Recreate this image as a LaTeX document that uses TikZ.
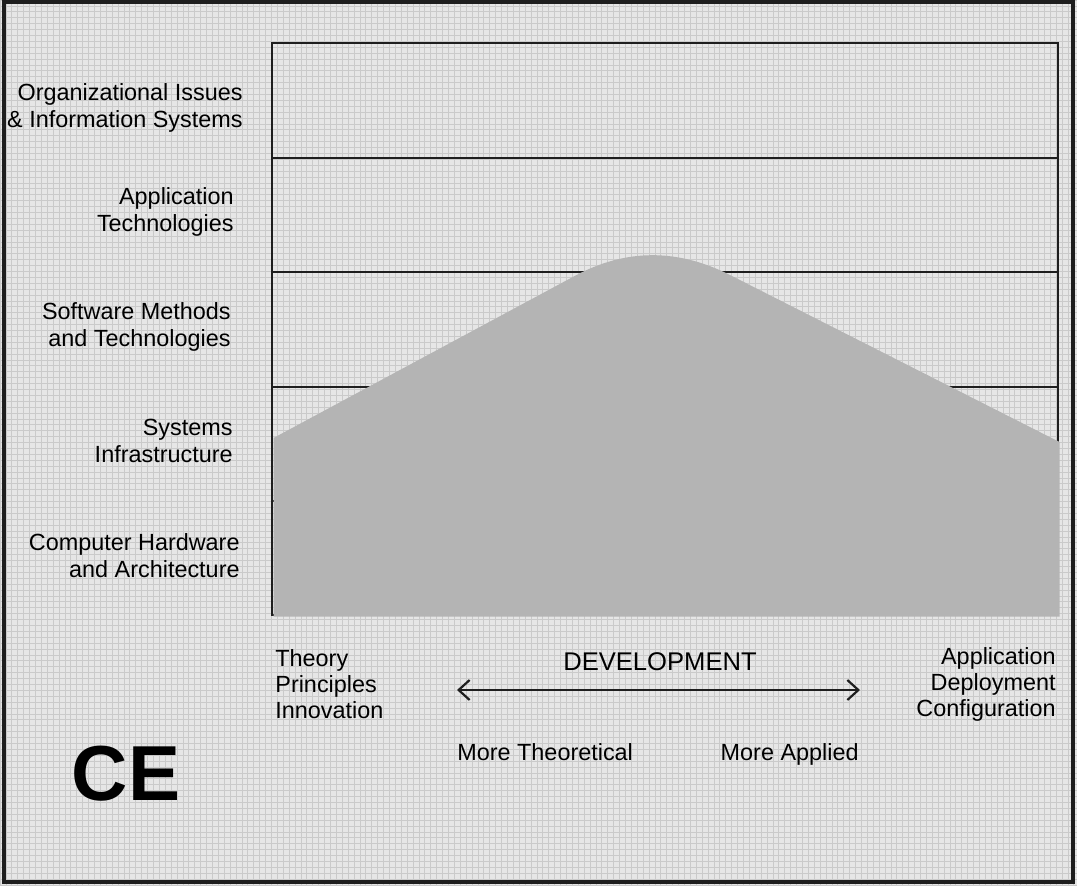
\documentclass[tikz,border=0pt]{standalone}
\usepackage{fontspec}
\setmainfont{Liberation Sans}
\usetikzlibrary{arrows.meta}
\definecolor{paper}{HTML}{E6E6E6}
\definecolor{gridgray}{HTML}{CACACA}
\definecolor{humpgray}{HTML}{B4B4B4}
\definecolor{inkdark}{HTML}{1E1E1E}

\begin{document}
\begin{tikzpicture}[x=0.5pt, y=-0.5pt,
  rowlabel/.style={anchor=east, align=right, inner sep=0pt, font=\fontsize{11.7}{13.5}\selectfont},
  axislabel/.style={inner sep=0pt, font=\fontsize{11.7}{13}\selectfont}]
\useasboundingbox (0,0) rectangle (1077,885);
\fill[paper] (0,0) rectangle (1077,885);
\draw[gridgray, line width=0.35pt, step=2.95pt] (0,885) grid (1077,0);
\draw[inkdark, line width=1.8pt] (4,2) rectangle (1073,882);
% layer box
\coordinate (TL) at (272,43);
\coordinate (BR) at (1058,615);
\draw[inkdark, line width=1pt] (TL) rectangle (BR);
\foreach \y in {158,272,387,501}
  \draw[inkdark, line width=1pt] (272,\y) -- (1058,\y);
% hump
\fill[humpgray] (273.5,438) -- (575,275.8)
  .. controls (625.7,248.6) and (677.3,248.3) .. (730,275)
  -- (1059.5,442) -- (1059.5,616.5) -- (273.5,616.5) -- cycle;
% layer names
\node[rowlabel] (orgis) at (243,108) {Organizational Issues\\\& Information Systems};
\node[rowlabel] (apptech) at (234,212) {Application\\Technologies};
\node[rowlabel] (softmeth) at (231,327) {Software Methods\\and Technologies};
\node[rowlabel] (sysinf) at (233,441) {Systems\\Infrastructure};
\node[rowlabel] (comphw) at (240,556) {Computer Hardware\\and Architecture};
% axis
\node[axislabel, anchor=west, align=left] (theory) at (275,684) {Theory\\Principles\\Innovation};
\node[axislabel, anchor=east, align=right] (applied) at (1056,684) {Application\\Deployment\\Configuration};
\node[inner sep=0pt, font=\fontsize{12.8}{14}\selectfont] (devel) at (660,662) {DEVELOPMENT};
\coordinate (arrL) at (457,690);
\coordinate (arrR) at (860,690);
\draw[inkdark, line width=1.1pt, {Straight Barb[length=5.5pt,width=10pt]}-{Straight Barb[length=5.5pt,width=10pt]}] (arrL) -- (arrR);
\node[axislabel, anchor=base west] (moretheo) at (457,760) {More Theoretical};
\node[axislabel, anchor=base east] (moreappl) at (859,760) {More Applied};
\node[inner sep=0pt, font=\fontsize{39}{44}\selectfont\bfseries] (ce) at (126,774) {CE};
\end{tikzpicture}
\end{document}
